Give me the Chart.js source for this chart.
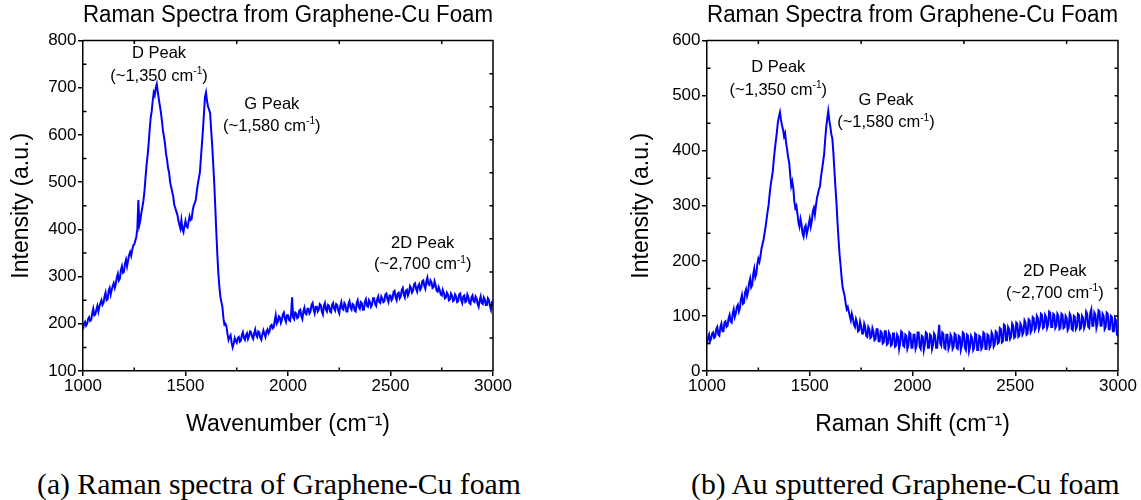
<!DOCTYPE html>
<html><head><meta charset="utf-8">
<script src="https://cdn.jsdelivr.net/npm/chart.js@4.4.1/dist/chart.umd.min.js"></script>
<style>
html,body{margin:0;padding:0;background:#fff;}
body{width:1141px;height:500px;overflow:hidden;position:relative;}
#ca{position:absolute;left:0;top:0;}
#cb{position:absolute;left:600px;top:0;}
.cap{position:absolute;top:469px;font-family:"Liberation Serif","DejaVu Serif",serif;font-size:29.7px;line-height:30px;color:#000;white-space:nowrap;}
</style></head><body>
<canvas id="ca" width="576" height="445"></canvas>
<canvas id="cb" width="541" height="445"></canvas>
<div class="cap" id="capA" style="left:37px">(a) Raman spectra of Graphene-Cu foam</div>
<div class="cap" id="capB" style="left:691px">(b) Au sputtered Graphene-Cu foam</div>
<script>
// ---------- data ----------
const wavenumberStart = 1000;   // cm-1, first sample
const wavenumberStep = 5;       // cm-1 between samples (20 samples per row below)

// (a) Raman spectra of Graphene-Cu foam, intensity (a.u.)
const intensityA = [
  188,200,204,196,200,210,214,206,208,222,232,218,220,230,238,226,236,244,250,240,
  244,258,266,250,252,270,276,262,272,280,286,276,284,298,306,292,296,314,322,308,
  310,328,336,322,334,346,352,344,356,366,368,376,384,400,462,410,420,436,448,462,
  482,510,536,556,580,610,636,650,672,690,684,700,708,690,676,662,648,630,610,596,
  582,560,548,530,520,500,490,480,470,452,446,438,432,420,410,402,420,400,394,408,
  418,406,404,416,428,420,422,440,450,456,462,480,496,508,520,550,580,610,645,680,
  690,672,660,654,646,612,580,540,500,450,398,350,308,280,258,246,236,212,198,200,
  194,178,166,172,176,160,150,158,170,164,160,170,172,162,164,176,182,170,166,176,
  180,168,174,184,182,172,168,180,188,176,172,184,182,170,166,178,186,178,172,184,
  188,180,184,196,198,190,192,206,218,200,204,216,214,202,208,220,224,210,204,218,
  218,208,206,220,256,214,210,224,222,212,214,228,230,216,210,226,234,222,220,232,
  232,222,226,240,244,230,222,236,236,226,230,242,240,226,220,238,244,230,226,240,
  238,226,224,240,244,232,228,242,240,228,222,238,246,232,230,244,240,226,226,242,
  248,234,230,242,240,228,226,244,250,236,232,246,244,230,230,246,252,238,236,250,
  246,236,240,254,254,242,238,252,258,246,244,258,254,246,248,262,264,252,246,260,
  260,250,254,268,270,256,250,264,266,254,258,272,276,262,256,270,272,260,266,280,
  276,266,270,284,286,274,268,280,284,272,276,290,292,280,274,290,298,284,282,292,
  288,276,278,290,282,270,268,278,272,262,260,272,266,254,256,266,262,250,252,264,
  260,248,250,262,258,246,248,262,264,250,244,258,260,246,248,262,256,244,242,256,
  260,248,246,258,254,242,236,250,258,244,242,256,252,240,240,254,250,238,230,246,
  248
];

// (b) Au sputtered Graphene-Cu foam, intensity (a.u.)
const intensityB = [
  48,60,66,54,58,68,70,60,62,76,80,66,64,80,86,72,72,88,90,80,
  82,96,102,90,88,104,112,98,104,116,120,108,114,130,138,122,124,142,148,136,
  144,160,168,152,156,176,186,170,176,194,204,198,208,222,230,238,250,262,276,290,
  302,322,338,350,362,384,402,418,434,452,462,470,456,446,438,426,432,414,402,388,
  378,356,336,344,332,308,296,300,286,270,262,276,266,250,244,260,264,248,256,266,
  276,262,272,290,296,284,300,314,322,330,336,354,366,380,394,420,442,458,472,456,
  444,430,422,396,364,334,306,270,240,212,192,170,152,144,136,122,112,116,108,100,
  92,104,96,84,80,94,88,72,74,90,82,68,68,86,80,64,62,80,76,60,
  62,78,72,56,58,76,76,54,54,72,70,50,52,72,72,48,50,70,66,46,
  48,68,68,44,46,66,62,40,50,72,70,46,44,66,64,40,46,70,68,42,
  42,66,66,40,46,70,70,44,40,64,62,38,48,70,68,42,42,66,64,40,
  48,68,64,42,42,64,84,50,46,70,68,42,40,66,66,40,46,66,62,40,
  44,68,66,42,40,64,62,38,46,70,68,42,38,66,64,36,44,64,60,38,
  42,68,66,38,38,64,62,40,44,70,68,40,40,66,64,42,46,70,66,44,
  48,72,70,50,52,78,76,52,54,84,82,56,56,80,76,58,62,86,82,60,
  62,88,86,62,64,86,82,66,70,92,88,66,68,94,92,70,74,98,96,74,
  78,100,96,76,82,104,102,78,80,102,98,78,84,108,106,80,80,104,102,78,
  82,104,100,76,78,104,102,78,80,100,96,74,78,104,100,76,74,100,98,76,
  80,104,102,76,78,100,96,78,84,108,104,80,78,106,112,82,82,106,102,78,
  86,110,108,82,82,104,100,76,80,106,104,76,76,100,98,72,72,96,92,66,
  64
];

// axis ticks
const xTickValues = [1000, 1500, 2000, 2500, 3000];
const xMinorTicks = [1250, 1750, 2250, 2750];
const xTopTicks = [1250, 1750, 2250, 2750];
const yTicksA = [100, 200, 300, 400, 500, 600, 700, 800];
const yMinorA = [150, 250, 350, 450, 550, 650, 750];
const yRightA = [730, 660, 590, 520, 450, 380, 310, 240, 170];
const yTicksB = [0, 100, 200, 300, 400, 500, 600];
const yMinorB = [50, 150, 250, 350, 450, 550];
const yRightB = [550, 500, 450, 400, 350, 300, 250, 200, 150, 100, 50];

// texts
const chartTitle = 'Raman Spectra from Graphene-Cu Foam';
const xTitleA = 'Wavenumber (cm\u207B\u00B9)';
const xTitleB = 'Raman Shift (cm\u207B\u00B9)';
const yTitle = 'Intensity (a.u.)';
const peakNames = ['D Peak', 'G Peak', '2D Peak'];
const peakShifts = ['1,350', '1,580', '2,700'];

// annotation anchors (data coordinates of text centres)
const annotA = [[1371, 775, 728], [1921, 668, 622], [2657, 374, 328]];
const annotB = [[1347, 553, 512], [1871, 493, 453], [2693, 184, 144]];

// ---------- drawing ----------
const FAM = '"Liberation Sans", Arial, Helvetica, sans-serif';

function drawRich(ctx, parts, cx, cy, size) {
  const supSize = size * 0.62;
  let total = 0;
  const widths = parts.map(p => {
    ctx.font = (p.sup ? supSize : size) + 'px ' + FAM;
    const w = ctx.measureText(p.t).width; total += w; return w;
  });
  let x = cx - total / 2;
  const base = cy + size * 0.36;
  ctx.textAlign = 'left'; ctx.textBaseline = 'alphabetic';
  parts.forEach((p, i) => {
    ctx.font = (p.sup ? supSize : size) + 'px ' + FAM;
    ctx.fillText(p.t, x, p.sup ? base - size * 0.40 : base);
    x += widths[i];
  });
}

const framePlugin = {
  id: 'frame',
  afterDatasetsDraw(chart, args, o) {
    const {ctx, chartArea: {left, right, top, bottom}, scales: {x, y}} = chart;
    ctx.save();
    ctx.strokeStyle = '#000';
    ctx.lineWidth = 1.5;
    ctx.beginPath();
    ctx.moveTo(left, top); ctx.lineTo(right, top); ctx.lineTo(right, bottom);
    ctx.stroke();
    ctx.beginPath();
    o.minorX.forEach(v => { const p = x.getPixelForValue(v); ctx.moveTo(p, bottom); ctx.lineTo(p, bottom - 3.5); });
    o.topX.forEach(v => { const p = x.getPixelForValue(v); ctx.moveTo(p, top); ctx.lineTo(p, top + 3.5); });
    o.minorY.forEach(v => { const p = y.getPixelForValue(v); ctx.moveTo(left, p); ctx.lineTo(left + 3.5, p); });
    o.rightY.forEach(v => { const p = y.getPixelForValue(v); ctx.moveTo(right, p); ctx.lineTo(right - 3.5, p); });
    ctx.stroke();
    ctx.fillStyle = '#000';
    o.annot.forEach((a, i) => {
      const px = x.getPixelForValue(a[0]);
      drawRich(ctx, [{t: peakNames[i]}], px, y.getPixelForValue(a[1]), 16.5);
      drawRich(ctx, [{t: '(~' + peakShifts[i] + ' cm'}, {t: '-1', sup: true}, {t: ')'}], px, y.getPixelForValue(a[2]), 16.5);
    });
    ctx.restore();
  }
};

function makeChart(id, values, yTicks, yMinor, yRight, xTitle, annot, yAxisWidth, yTitlePad, rightPad) {
  const pts = values.map((v, i) => ({x: wavenumberStart + i * wavenumberStep, y: v}));
  return new Chart(document.getElementById(id), {
    type: 'line',
    data: {datasets: [{data: pts, borderColor: '#0000FF', borderWidth: 2, pointRadius: 0, tension: 0, fill: false}]},
    plugins: [framePlugin],
    options: {
      responsive: false, animation: false, devicePixelRatio: 1,
      layout: {padding: {left: 0, right: rightPad, top: 0, bottom: 4}},
      plugins: {
        legend: {display: false}, tooltip: {enabled: false},
        title: {display: true, text: chartTitle, fullSize: false, color: '#000',
                font: {family: FAM, size: 23, weight: 'normal'}, padding: {top: 2, bottom: 11}},
        frame: {minorX: xMinorTicks, topX: xTopTicks, minorY: yMinor, rightY: yRight, annot: annot}
      },
      scales: {
        x: {
          type: 'linear', position: 'bottom', min: xTickValues[0], max: xTickValues[xTickValues.length - 1],
          afterBuildTicks: s => { s.ticks = xTickValues.map(v => ({value: v})); },
          afterFit: s => { s.height = 70; },
          ticks: {color: '#000', font: {family: FAM, size: 17}, padding: 0, maxRotation: 0, autoSkip: false,
                  callback: v => String(v)},
          grid: {display: true, drawOnChartArea: false, drawTicks: true, tickLength: 5, color: '#000', lineWidth: 1.5},
          border: {display: true, color: '#000', width: 1.5},
          title: {display: true, text: xTitle, color: '#000', font: {family: FAM, size: 23}, padding: {top: 0, bottom: 3}}
        },
        y: {
          type: 'linear', position: 'left', min: yTicks[0], max: yTicks[yTicks.length - 1],
          afterBuildTicks: s => { s.ticks = yTicks.map(v => ({value: v})); },
          afterFit: s => { s.width = yAxisWidth; },
          ticks: {color: '#000', font: {family: FAM, size: 17}, padding: 1.5, autoSkip: false,
                  callback: v => String(v)},
          grid: {display: true, drawOnChartArea: false, drawTicks: true, tickLength: 5, color: '#000', lineWidth: 1.5},
          border: {display: true, color: '#000', width: 1.5},
          title: {display: true, text: yTitle, color: '#000', font: {family: FAM, size: 23}, padding: {top: yTitlePad - 1, bottom: 0}}
        }
      }
    }
  });
}

makeChart('ca', intensityA, yTicksA, yMinorA, yRightA, xTitleA, annotA, 83, 9, 83);
makeChart('cb', intensityB, yTicksB, yMinorB, yRightB, xTitleB, annotB, 107, 29, 23);
</script>
</body></html>
